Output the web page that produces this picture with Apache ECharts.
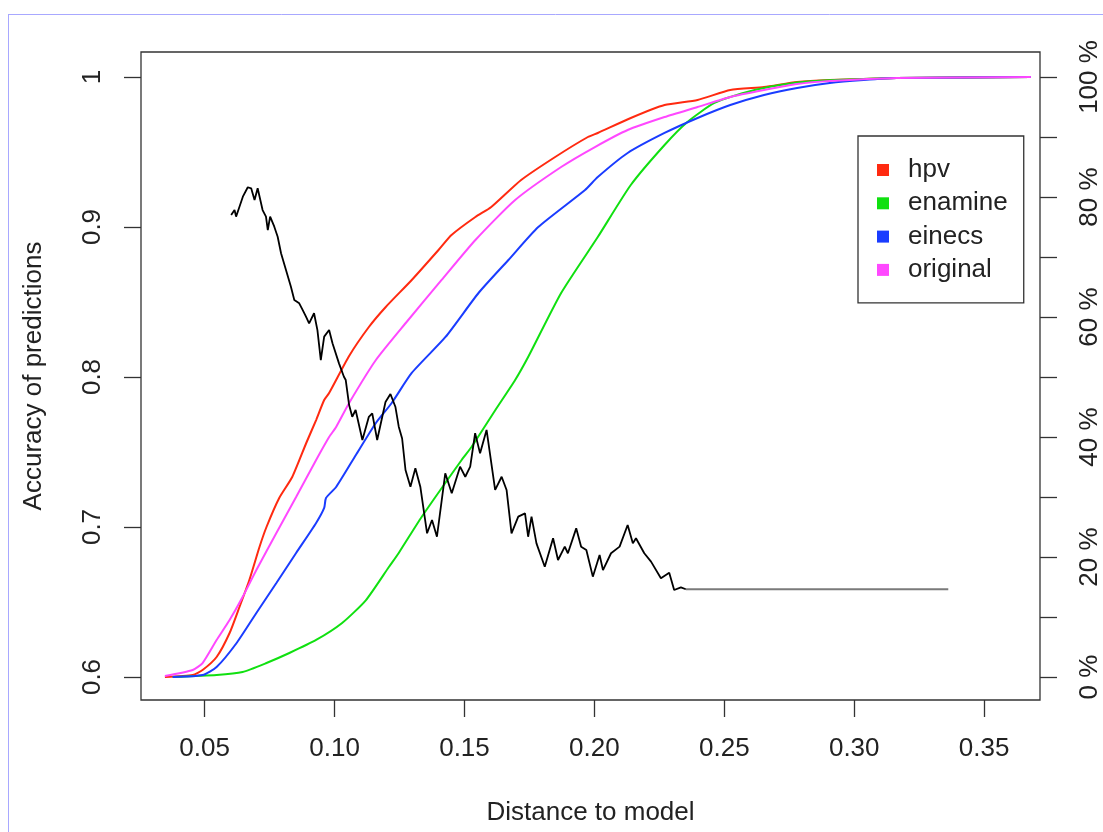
<!DOCTYPE html>
<html>
<head>
<meta charset="utf-8">
<script src="https://cdn.jsdelivr.net/npm/echarts@6/dist/echarts.min.js"></script>
<style>
html,body{margin:0;padding:0;background:#fff;}
#chart{width:1103px;height:832px;}
</style>
</head>
<body>
<div id="chart"></div>
<script>
// ---- data ----
const xTicks = [0.05, 0.10, 0.15, 0.20, 0.25, 0.30, 0.35];
const leftTicks = [0.6, 0.7, 0.8, 0.9, 1.0];
const rightTicks = [0, 10, 20, 30, 40, 50, 60, 70, 80, 90, 100];
const rightLabels = [0, 20, 40, 60, 80, 100];
const seriesNames = ['hpv', 'enamine', 'einecs', 'original'];

const hpvX = [0.0347,0.0454,0.0492,0.0546,0.0596,0.0634,0.0672,0.0711,0.0738,0.0787,0.0837,0.0891,0.0929,0.0960,0.0979,0.1056,0.1132,0.1197,0.1297,0.1400,0.1450,0.1542,0.1603,0.1718,0.1849,0.1975,0.2013,0.2140,0.2270,0.2397,0.2523,0.2653,0.2780,0.2906,0.3163,0.3680];
const hpvPct = [0,0.33,1.17,3.33,7.33,11.67,16.17,21.67,25,29.83,33.33,39,42.83,46.17,47.33,53.5,58.33,61.67,66.17,71.17,73.67,76.67,78.33,82.83,86.67,90,90.67,93.17,95.33,96.17,97.83,98.33,99.17,99.5,99.83,100];

const enamineX = [0.0377,0.0546,0.0646,0.0738,0.0826,0.0929,0.1029,0.1121,0.1209,0.1247,0.1335,0.1489,0.1527,0.1619,0.1695,0.1745,0.1872,0.2013,0.2140,0.2270,0.2358,0.2462,0.2588,0.2715,0.2845,0.3036,0.3163,0.3680];
const enaminePct = [0,0.33,0.83,2.33,4,6.17,9,12.83,18.33,20.67,26.67,36.17,38.33,44.5,49.5,53.33,64,73.33,82,88.67,92.5,95.67,97.5,98.67,99.33,99.67,99.83,100];

const einecsX = [0.0377,0.0492,0.0546,0.0623,0.0699,0.0776,0.0852,0.0929,0.0960,0.0967,0.1006,0.1082,0.1159,0.1220,0.1297,0.1427,0.1554,0.1669,0.1784,0.1964,0.2013,0.2128,0.2270,0.2397,0.2523,0.2653,0.2780,0.2906,0.3036,0.3163,0.3680];
const einecsPct = [0,0.33,1.67,5.67,10.67,15.67,20.67,25.67,28.17,29.83,31.67,37,42.33,45.67,50.67,56.67,64,69.5,75,81.17,83.33,87.33,90.67,93.17,95.33,97,98.17,99,99.5,99.83,100];

const originalX = [0.0347,0.0454,0.0492,0.0546,0.0596,0.0646,0.0699,0.0776,0.0852,0.0929,0.0979,0.1006,0.1056,0.1159,0.1274,0.1412,0.1542,0.1695,0.1872,0.2002,0.2128,0.2270,0.2397,0.2523,0.2653,0.2780,0.2906,0.3163,0.3680];
const originalPct = [0.17,1.17,2.33,6.17,9.5,13.33,17.83,24,30,36.17,40,41.67,45.67,52.83,59,66.17,72.83,79.5,85,88.33,91.17,93.33,95,96.67,97.83,98.83,99.33,99.83,100];

const accX = [0.0602,0.0615,0.0621,0.0634,0.0647,0.0666,0.0679,0.0692,0.0704,0.0723,0.0736,0.0743,0.0752,0.0768,0.0781,0.0794,0.0813,0.0832,0.0845,0.0864,0.0877,0.0890,0.0902,0.0921,0.0934,0.0947,0.0960,0.0979,0.0992,0.1017,0.1036,0.1043,0.1056,0.1068,0.1081,0.1107,0.1132,0.1145,0.1164,0.1196,0.1215,0.1234,0.1247,0.1260,0.1273,0.1292,0.1311,0.1330,0.1356,0.1375,0.1394,0.1426,0.1451,0.1483,0.1503,0.1522,0.1541,0.1560,0.1585,0.1618,0.1643,0.1662,0.1681,0.1707,0.1733,0.1745,0.1758,0.1777,0.1809,0.1841,0.1860,0.1886,0.1898,0.1930,0.1949,0.1969,0.1994,0.2020,0.2033,0.2064,0.2097,0.2128,0.2148,0.2160,0.2192,0.2218,0.2256,0.2288,0.2307,0.2333,0.2352];
const accVal = [0.908,0.9113,0.9069,0.9135,0.9202,0.9265,0.9258,0.918,0.9258,0.9113,0.9069,0.898,0.9069,0.9002,0.8935,0.8825,0.8713,0.8602,0.8513,0.8491,0.8447,0.8402,0.8358,0.8425,0.8313,0.8113,0.8269,0.8313,0.8225,0.8091,0.8002,0.798,0.7813,0.7735,0.778,0.758,0.7735,0.7758,0.758,0.7833,0.7887,0.7802,0.7669,0.759,0.738,0.7269,0.7391,0.7269,0.6958,0.7047,0.6935,0.7358,0.7225,0.7402,0.7335,0.7402,0.7625,0.7491,0.7647,0.7247,0.7335,0.7247,0.6958,0.7069,0.7091,0.6935,0.7069,0.6891,0.6735,0.6925,0.678,0.6869,0.6825,0.6991,0.6869,0.6847,0.6669,0.6813,0.6713,0.6825,0.6869,0.7013,0.6891,0.6925,0.6825,0.6769,0.6658,0.6695,0.658,0.6598,0.6585];

const tailX = [0.2352, 0.3362];
const tailVal = [0.6585, 0.6585];

// ---- build ----
const zip = (a, b) => a.map((v, i) => [v, b[i]]);
const colors = { hpv: '#ff2a10', enamine: '#10e010', einecs: '#1a3cff', original: '#ff48ff' };
const FONT = 'Liberation Sans, Arial, sans-serif';
const FS = 26;

const chart = echarts.init(document.getElementById('chart'), null, { renderer: 'canvas' });

const curve = (name, xs, ys) => ({
  name, type: 'line', yAxisIndex: 1, data: zip(xs, ys), showSymbol: false, symbol: 'none',
  smooth: 0.2,
  lineStyle: { color: colors[name], width: 2 }, itemStyle: { color: colors[name] }, z: 3
});

chart.setOption({
  animation: false,
  backgroundColor: '#fff',
  textStyle: { fontFamily: FONT },
  grid: { left: 141, right: 60, top: 52, bottom: 132, show: true, borderColor: '#333', borderWidth: 1.3, backgroundColor: 'transparent' },
  graphic: [
    { type: 'line', shape: { x1: 8, y1: 14.5, x2: 1103, y2: 14.5 }, style: { stroke: '#a8a8ff', lineWidth: 1 }, z: 100 },
    { type: 'line', shape: { x1: 8.5, y1: 14, x2: 8.5, y2: 832 }, style: { stroke: '#a8a8ff', lineWidth: 1 }, z: 100 }
  ],
  legend: {
    orient: 'vertical', left: 858, top: 136,
    data: seriesNames,
    icon: 'rect', itemWidth: 12, itemHeight: 12, itemGap: 3.3,
    padding: [19, 16, 18, 19],
    borderColor: '#333', borderWidth: 1.3, backgroundColor: '#fff',
    textStyle: { fontFamily: FONT, fontSize: FS, color: '#222', lineHeight: 30, padding: [0, 0, 0, 14] },
    itemStyle: { borderWidth: 0 }
  },
  xAxis: {
    type: 'value', min: 0.0255, max: 0.3715,
    name: 'Distance to model', nameLocation: 'middle', nameGap: 100,
    nameTextStyle: { fontFamily: FONT, fontSize: FS, color: '#222' },
    axisLine: { show: false, onZero: false },
    axisTick: { show: true, length: 17, customValues: xTicks, lineStyle: { color: '#333', width: 1.3 } },
    axisLabel: { customValues: xTicks, margin: 36, fontFamily: FONT, fontSize: FS, color: '#222', formatter: v => v.toFixed(2) },
    splitLine: { show: false }
  },
  yAxis: [
    {
      type: 'value', position: 'left', min: 0.58467, max: 1.01667,
      name: 'Accuracy of predictions', nameLocation: 'middle', nameRotate: 90, nameGap: 94,
      nameTextStyle: { fontFamily: FONT, fontSize: FS, color: '#222' },
      axisLine: { show: false, onZero: false },
      axisTick: { show: true, length: 17, customValues: leftTicks, lineStyle: { color: '#333', width: 1.3 } },
      axisLabel: { customValues: leftTicks, rotate: 90, margin: 35, fontFamily: FONT, fontSize: FS, color: '#222',
        formatter: v => (Math.abs(v - 1) < 1e-9 ? '1' : v.toFixed(1)) },
      splitLine: { show: false }
    },
    {
      type: 'value', position: 'right', min: -3.8333, max: 104.1667,
      axisLine: { show: false, onZero: false },
      axisTick: { show: true, length: 17, customValues: rightTicks, lineStyle: { color: '#333', width: 1.3 } },
      axisLabel: { customValues: rightLabels, rotate: 90, margin: 37, fontFamily: FONT, fontSize: FS, color: '#222',
        formatter: v => Math.round(v) + ' %' },
      splitLine: { show: false }
    }
  ],
  series: [
    curve('hpv', hpvX, hpvPct),
    curve('enamine', enamineX, enaminePct),
    curve('einecs', einecsX, einecsPct),
    curve('original', originalX, originalPct),
    { name: 'accuracy', type: 'line', yAxisIndex: 0, data: zip(accX, accVal), showSymbol: false, symbol: 'none',
      lineStyle: { color: '#000', width: 1.8 }, z: 4 },
    { name: 'tail', type: 'line', yAxisIndex: 0, data: zip(tailX, tailVal), showSymbol: false, symbol: 'none',
      lineStyle: { color: '#7a7a7a', width: 2 }, z: 4 }
  ]
});
</script>
</body>
</html>
